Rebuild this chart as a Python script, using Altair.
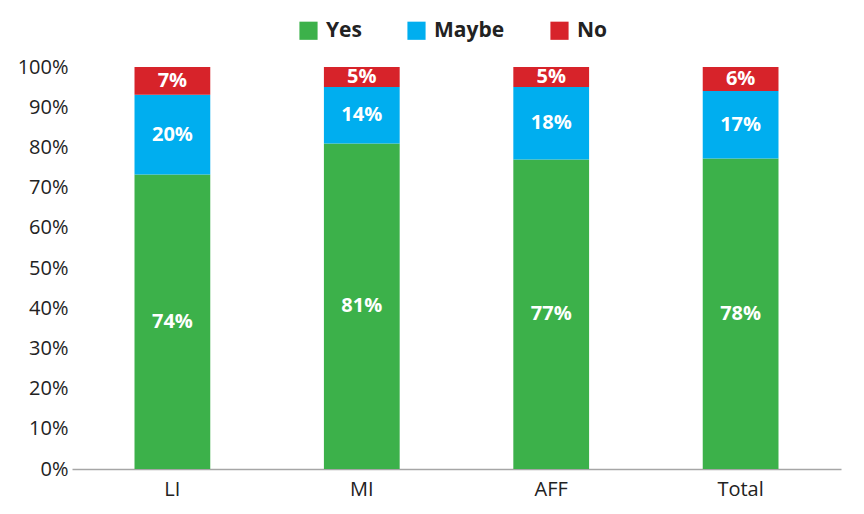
import altair as alt
import pandas as pd

categories = ["LI", "MI", "AFF", "Total"]
responses = ["Yes", "Maybe", "No"]
yes_vals = [74, 81, 77, 78]
maybe_vals = [20, 14, 18, 17]
no_vals = [7, 5, 5, 6]
colors = ["#3cb14a", "#00aeef", "#d7232a"]

rows = []
for i, c in enumerate(categories):
    for j, (r, vals) in enumerate(zip(responses, [yes_vals, maybe_vals, no_vals])):
        rows.append({"cat": c, "resp": r, "value": vals[i], "ord": j})
df = pd.DataFrame(rows)

font = "Open Sans"

base = alt.Chart(df).transform_joinaggregate(
    tot="sum(value)", groupby=["cat"]
).transform_calculate(
    frac="datum.value / datum.tot"
).transform_stack(
    stack="frac", groupby=["cat"], sort=[alt.SortField("ord", order="ascending")], as_=["y0", "y1"]
).transform_calculate(
    mid="(datum.y0 + datum.y1) / 2",
    lbl="datum.value + '%'"
)

x = alt.X("cat:N", sort=categories, title=None,
          scale=alt.Scale(paddingInner=0.6, paddingOuter=0.33),
          axis=alt.Axis(labelAngle=0, labelFontSize=20, labelFont=font, labelColor="#222",
                        domainColor="#a6a6a6", domainWidth=1.5, ticks=False, labelPadding=10))

bars = base.mark_bar().encode(
    x=x,
    y=alt.Y("y0:Q", title=None, scale=alt.Scale(domain=[0, 1]),
            axis=alt.Axis(format=".0%", values=[i / 10 for i in range(11)], labelFontSize=20,
                          labelFont=font, labelColor="#222", grid=False, domain=False,
                          ticks=False, labelPadding=4)),
    y2="y1:Q",
    color=alt.Color("resp:N", sort=responses, title=None,
                    scale=alt.Scale(domain=responses, range=colors),
                    legend=alt.Legend(orient="none", legendX=226, legendY=-47,
                                      direction="horizontal", symbolType="square",
                                      symbolSize=330, symbolStrokeWidth=0, symbolOpacity=1,
                                      labelFontSize=21, labelFont=font, labelFontWeight="bold",
                                      labelColor="#222", columnPadding=44, labelOffset=7)),
)

text = base.mark_text(color="white", fontSize=20, fontWeight="bold", font=font).encode(
    x=alt.X("cat:N", sort=categories),
    y=alt.Y("mid:Q"),
    text="lbl:N",
)

chart = (bars + text).properties(
    width=769, height=402,
    padding={"left": 64, "top": 59, "right": 15, "bottom": 40},
    autosize=alt.AutoSizeParams(type="none"),
).configure_view(stroke=None)

chart.save("out.html", embed_options={"renderer": "svg", "actions": False})
